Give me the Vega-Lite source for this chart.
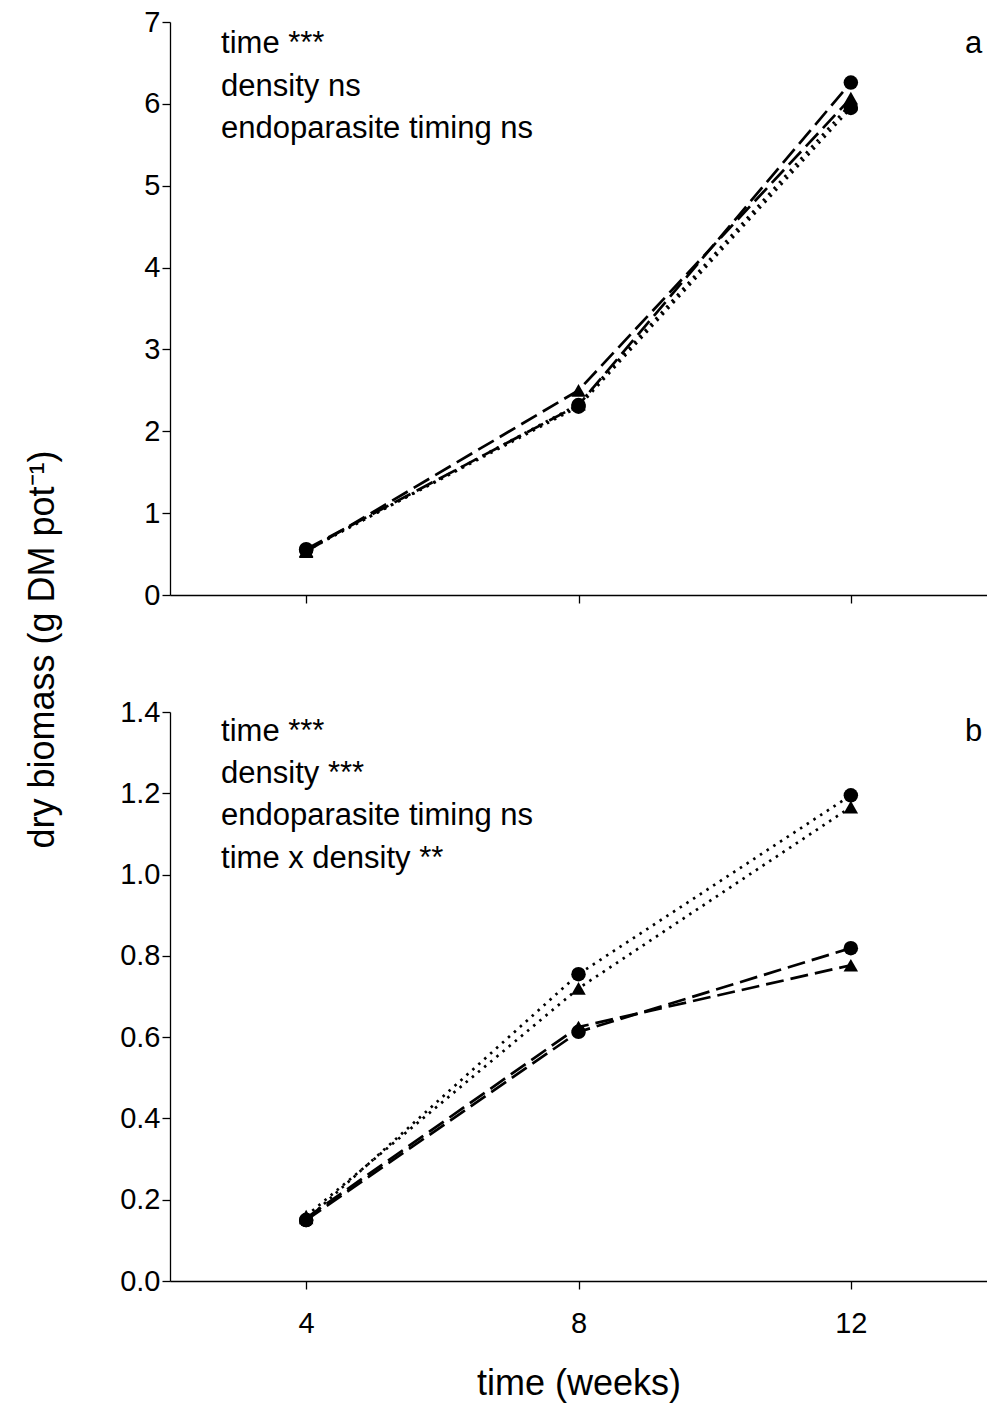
{
  "$schema": "https://vega.github.io/schema/vega-lite/v6.json",
  "background": "white",
  "padding": {"left": 23, "top": 8, "right": 0, "bottom": 5},
  "bounds": "flush",
  "spacing": 117,
  "config": {
    "font": "Liberation Sans",
    "view": {"stroke": null},
    "axis": {
      "domainColor": "black", "domainWidth": 1.3, "tickColor": "black", "tickWidth": 1.3,
      "tickSize": 8, "labelFontSize": 29, "labelColor": "black", "labelPadding": 2,
      "grid": false, "titleFontSize": 36, "titleFontWeight": "normal", "titleColor": "black", "labelFlush": false
    },
    "axisX": {"labelPadding": 20}
  },
  "datasets": {
    "series": [
      {"panel": "a", "time": 4, "biomass": 0.55, "density": "low", "timing": "early"},
      {"panel": "a", "time": 8, "biomass": 2.30, "density": "low", "timing": "early"},
      {"panel": "a", "time": 12, "biomass": 5.95, "density": "low", "timing": "early"},
      {"panel": "a", "time": 4, "biomass": 0.54, "density": "low", "timing": "late"},
      {"panel": "a", "time": 8, "biomass": 2.33, "density": "low", "timing": "late"},
      {"panel": "a", "time": 12, "biomass": 6.00, "density": "low", "timing": "late"},
      {"panel": "a", "time": 4, "biomass": 0.56, "density": "high", "timing": "early"},
      {"panel": "a", "time": 8, "biomass": 2.32, "density": "high", "timing": "early"},
      {"panel": "a", "time": 12, "biomass": 6.26, "density": "high", "timing": "early"},
      {"panel": "a", "time": 4, "biomass": 0.53, "density": "high", "timing": "late"},
      {"panel": "a", "time": 8, "biomass": 2.50, "density": "high", "timing": "late"},
      {"panel": "a", "time": 12, "biomass": 6.07, "density": "high", "timing": "late"},
      {"panel": "b", "time": 4, "biomass": 0.15, "density": "low", "timing": "early"},
      {"panel": "b", "time": 8, "biomass": 0.755, "density": "low", "timing": "early"},
      {"panel": "b", "time": 12, "biomass": 1.195, "density": "low", "timing": "early"},
      {"panel": "b", "time": 4, "biomass": 0.16, "density": "low", "timing": "late"},
      {"panel": "b", "time": 8, "biomass": 0.72, "density": "low", "timing": "late"},
      {"panel": "b", "time": 12, "biomass": 1.166, "density": "low", "timing": "late"},
      {"panel": "b", "time": 4, "biomass": 0.15, "density": "high", "timing": "early"},
      {"panel": "b", "time": 8, "biomass": 0.613, "density": "high", "timing": "early"},
      {"panel": "b", "time": 12, "biomass": 0.819, "density": "high", "timing": "early"},
      {"panel": "b", "time": 4, "biomass": 0.155, "density": "high", "timing": "late"},
      {"panel": "b", "time": 8, "biomass": 0.625, "density": "high", "timing": "late"},
      {"panel": "b", "time": 12, "biomass": 0.777, "density": "high", "timing": "late"}
    ],
    "notes": [
      {"panel": "a", "label": "time ***", "time": 2.75, "biomass": 6.73, "side": "left"},
      {"panel": "a", "label": "density ns", "time": 2.75, "biomass": 6.21, "side": "left"},
      {"panel": "a", "label": "endoparasite timing ns", "time": 2.75, "biomass": 5.69, "side": "left"},
      {"panel": "a", "label": "a", "time": 13.93, "biomass": 6.73, "side": "right"},
      {"panel": "b", "label": "time ***", "time": 2.75, "biomass": 1.35, "side": "left"},
      {"panel": "b", "label": "density ***", "time": 2.75, "biomass": 1.247, "side": "left"},
      {"panel": "b", "label": "endoparasite timing ns", "time": 2.75, "biomass": 1.144, "side": "left"},
      {"panel": "b", "label": "time x density **", "time": 2.75, "biomass": 1.038, "side": "left"},
      {"panel": "b", "label": "b", "time": 13.93, "biomass": 1.35, "side": "right"}
    ]
  },
  "vconcat": [
    {
      "width": 817,
      "height": 573,
      "layer": [
        {
          "data": {"name": "series"},
          "transform": [{"filter": "datum.panel === 'a'"}],
          "mark": {"type": "line", "color": "black", "strokeWidth": 2.7},
          "encoding": {
            "x": {"field": "time", "type": "quantitative", "scale": {"domain": [2, 14], "nice": false, "zero": false},
                  "axis": {"values": [4, 8, 12], "labels": false, "title": null}},
            "y": {"field": "biomass", "type": "quantitative", "scale": {"domain": [0, 7], "nice": false},
                  "axis": {"values": [0, 1, 2, 3, 4, 5, 6, 7], "format": "d", "title": null}},
            "detail": {"field": "timing"},
            "strokeDash": {"field": "density", "type": "nominal", "legend": null,
                           "scale": {"domain": ["low", "high"], "range": [[2.5, 5.5], [18, 7]]}}
          }
        },
        {
          "data": {"name": "series"},
          "transform": [{"filter": "datum.panel === 'a'"}],
          "mark": {"type": "point", "filled": true, "color": "black", "opacity": 1, "size": 210},
          "encoding": {
            "x": {"field": "time", "type": "quantitative"},
            "y": {"field": "biomass", "type": "quantitative"},
            "shape": {"field": "timing", "type": "nominal", "legend": null,
                      "scale": {"domain": ["early", "late"], "range": ["circle", "triangle-up"]}}
          }
        },
        {
          "data": {"name": "notes"},
          "transform": [{"filter": "datum.panel === 'a' && datum.side === 'left'"}],
          "mark": {"type": "text", "fontSize": 31, "baseline": "middle", "align": "left", "color": "black"},
          "encoding": {
            "x": {"field": "time", "type": "quantitative"},
            "y": {"field": "biomass", "type": "quantitative"},
            "text": {"field": "label"}
          }
        },
        {
          "data": {"name": "notes"},
          "transform": [{"filter": "datum.panel === 'a' && datum.side === 'right'"}],
          "mark": {"type": "text", "fontSize": 31, "baseline": "middle", "align": "right", "color": "black"},
          "encoding": {
            "x": {"field": "time", "type": "quantitative"},
            "y": {"field": "biomass", "type": "quantitative"},
            "text": {"field": "label"}
          }
        }
      ]
    },
    {
      "width": 817,
      "height": 569,
      "layer": [
        {
          "data": {"name": "series"},
          "transform": [{"filter": "datum.panel === 'b'"}],
          "mark": {"type": "line", "color": "black", "strokeWidth": 2.7},
          "encoding": {
            "x": {"field": "time", "type": "quantitative", "scale": {"domain": [2, 14], "nice": false, "zero": false},
                  "axis": {"values": [4, 8, 12], "format": "d", "title": "time (weeks)", "titlePadding": 28}},
            "y": {"field": "biomass", "type": "quantitative", "scale": {"domain": [0, 1.4], "nice": false},
                  "axis": {"values": [0, 0.2, 0.4, 0.6, 0.8, 1.0, 1.2, 1.4], "format": ".1f",
                           "title": "dry biomass (g DM pot⁻¹)", "titleX": -109, "titleY": -63,
                           "titleAngle": 270, "titleAlign": "center", "titleBaseline": "bottom"}},
            "detail": {"field": "timing"},
            "strokeDash": {"field": "density", "type": "nominal", "legend": null,
                           "scale": {"domain": ["low", "high"], "range": [[2.5, 5.5], [18, 7]]}}
          }
        },
        {
          "data": {"name": "series"},
          "transform": [{"filter": "datum.panel === 'b'"}],
          "mark": {"type": "point", "filled": true, "color": "black", "opacity": 1, "size": 210},
          "encoding": {
            "x": {"field": "time", "type": "quantitative"},
            "y": {"field": "biomass", "type": "quantitative"},
            "shape": {"field": "timing", "type": "nominal", "legend": null,
                      "scale": {"domain": ["early", "late"], "range": ["circle", "triangle-up"]}}
          }
        },
        {
          "data": {"name": "notes"},
          "transform": [{"filter": "datum.panel === 'b' && datum.side === 'left'"}],
          "mark": {"type": "text", "fontSize": 31, "baseline": "middle", "align": "left", "color": "black"},
          "encoding": {
            "x": {"field": "time", "type": "quantitative"},
            "y": {"field": "biomass", "type": "quantitative"},
            "text": {"field": "label"}
          }
        },
        {
          "data": {"name": "notes"},
          "transform": [{"filter": "datum.panel === 'b' && datum.side === 'right'"}],
          "mark": {"type": "text", "fontSize": 31, "baseline": "middle", "align": "right", "color": "black"},
          "encoding": {
            "x": {"field": "time", "type": "quantitative"},
            "y": {"field": "biomass", "type": "quantitative"},
            "text": {"field": "label"}
          }
        }
      ]
    }
  ]
}
